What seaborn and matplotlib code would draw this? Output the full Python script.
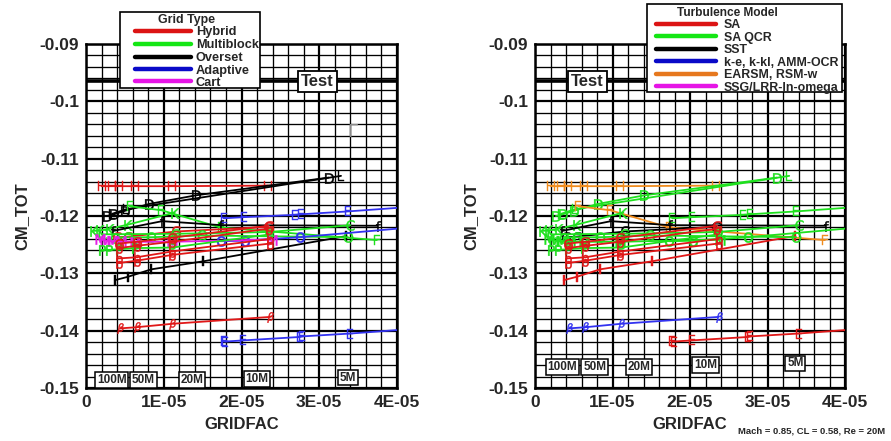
import numpy as np
import pandas as pd
import matplotlib
matplotlib.use("Agg")
import matplotlib.pyplot as plt
import seaborn as sns
from matplotlib.lines import Line2D
from matplotlib.patches import Rectangle

sns.set_style("white")
plt.rcParams['font.family'] = ['Liberation Sans', 'DejaVu Sans']
plt.rcParams['mathtext.fontset'] = 'dejavusans'

# ---------------- data (x in units of 1e-6) ----------------
H_x = [2.0, 3.3, 4.2, 6.3, 11.0, 23.4]
H_y = [-0.1148, -0.1148, -0.1148, -0.1148, -0.1148, -0.1147]
D_x = [2.7, 3.6, 5.0, 8.1, 14.1, 31.2]
D_y = [-0.1200, -0.1197, -0.1191, -0.1179, -0.1164, -0.1133]
L_x = [3.4, 5.2, 32.8]
L_y = [-0.1196, -0.1188, -0.1130]
F_x = [5.6, 9.7, 17.3, 37.4]
F_y = [-0.1183, -0.1190, -0.1220, -0.1242]
K_x = [1.0, 1.8, 3.1, 5.4, 11.4]
K_y = [-0.1226, -0.1225, -0.1222, -0.1215, -0.1194]
E1_x = [17.7, 20.3, 26.9, 27.7, 33.7, 46.0]
E1_y = [-0.1204, -0.1202, -0.1198, -0.1197, -0.1192, -0.1180]
E2_x = [17.7, 17.9, 20.2, 27.5, 27.8, 34.0, 46.0]
E2_y = [-0.1418, -0.1419, -0.1417, -0.1411, -0.1410, -0.1405, -0.1393]
BETA_x = [4.4, 6.5, 11.1, 23.7]
BETA_y = [-0.1396, -0.1394, -0.1388, -0.1376]
I_x = [3.7, 5.4, 8.4, 15.1, 33.5]
I_y = [-0.1312, -0.1306, -0.1293, -0.1279, -0.1235]
f_x = [3.5, 9.8, 17.4, 37.5]
f_y = [-0.1226, -0.1209, -0.1216, -0.1217]
G_x = [4.0, 5.4, 11.6, 23.4]
G_y = [-0.1237, -0.1236, -0.1227, -0.1219]
O_x = [3.7, 5.4, 8.4, 14.9, 33.7]
O_y = [-0.1238, -0.1237, -0.1237, -0.1234, -0.1237]
o_x = [17.3, 20.4, 27.5, 46.0]
o_y = [-0.1244, -0.1243, -0.1237, -0.1215]
C_x = [2.0, 11.5, 23.5, 34.0]
C_y = [-0.1232, -0.1231, -0.1228, -0.1216]
M_x = [1.8, 2.5, 3.3, 4.5, 6.3, 11.0, 23.9]
M_y = [-0.1240, -0.1243, -0.1244, -0.1244, -0.1245, -0.1245, -0.1241]
P_x = [2.0, 3.0, 4.2, 6.3, 11.1, 23.7]
P_y = [-0.1259, -0.1259, -0.1258, -0.1256, -0.1255, -0.1232]
b_x = [4.2, 6.5, 11.0, 23.7]
b_y = [-0.1282, -0.1278, -0.1268, -0.1248]
b2_x = [4.2, 6.5, 11.0, 23.7]
b2_y = [-0.1274, -0.1272, -0.1262, -0.1240]
a_x = [4.2, 6.5, 11.0, 23.5]
a_y = [-0.1256, -0.1252, -0.1245, -0.1222]
a2_x = [4.2, 6.5, 11.0, 23.5]
a2_y = [-0.1248, -0.1245, -0.1238, -0.1217]

# (marker letter, grid type, turbulence model, x, y)
series = [
    ("H", "Hybrid", "EARSM, RSM-w", H_x, H_y),
    ("D", "Overset", "SA QCR", D_x, D_y),
    ("L", "Overset", "SA QCR", L_x, L_y),
    ("F", "Multiblock", "EARSM, RSM-w", F_x, F_y),
    ("K", "Multiblock", "SA QCR", K_x, K_y),
    ("E", "Adaptive", "SA QCR", E1_x, E1_y),
    ("E", "Adaptive", "SA", E2_x, E2_y),
    ("\\beta", "Hybrid", "k-e, k-kl, AMM-OCR", BETA_x, BETA_y),
    ("I", "Overset", "SA", I_x, I_y),
    ("f", "Overset", "SST", f_x, f_y),
    ("G", "Hybrid", "SST", G_x, G_y),
    ("O", "Multiblock", "SA QCR", O_x, O_y),
    ("o", "Adaptive", "SA QCR", o_x, o_y),
    ("C", "Multiblock", "SA QCR", C_x, C_y),
    ("M", "Cart", "SA QCR", M_x, M_y),
    ("P", "Multiblock", "SA QCR", P_x, P_y),
    ("b", "Hybrid", "SA", b_x, b_y),
    ("b", "Hybrid", "SA", b2_x, b2_y),
    ("b", "Hybrid", "SA", a_x, a_y),
    ("G", "Hybrid", "SA", a2_x, a2_y),
]

grid_types = ["Hybrid", "Multiblock", "Overset", "Adaptive", "Cart"]
models = ["SA", "SA QCR", "SST", "k-e, k-kl, AMM-OCR", "EARSM, RSM-w", "SSG/LRR-ln-omega"]
size_labels = ["100M", "50M", "20M", "10M", "5M"]
size_x_left = [3.3, 7.4, 13.6, 22.0, 33.7]
size_y_left = [-0.1486, -0.1486, -0.1486, -0.1484, -0.1482]
size_x_right = [3.5, 7.7, 13.4, 22.0, 33.6]
size_y_right = [-0.1463, -0.1463, -0.1463, -0.1460, -0.1457]
test_level = -0.0965

grid_colors = {"Hybrid": "#e01818", "Multiblock": "#1ee01e", "Overset": "#000000",
               "Adaptive": "#3232f0", "Cart": "#e61ee6"}
grid_legend_colors = {"Hybrid": "#dc1414", "Multiblock": "#14e614", "Overset": "#000000",
                      "Adaptive": "#0a0ac8", "Cart": "#e614e6"}
model_colors = {"SA": "#e01818", "SA QCR": "#1ee01e", "SST": "#000000",
                "k-e, k-kl, AMM-OCR": "#3232f0", "EARSM, RSM-w": "#f08c1e",
                "SSG/LRR-ln-omega": "#e61ee6"}
model_legend_colors = {"SA": "#dc1414", "SA QCR": "#14e614", "SST": "#000000",
                       "k-e, k-kl, AMM-OCR": "#0a0ac8", "EARSM, RSM-w": "#e6781e",
                       "SSG/LRR-ln-omega": "#e614e6"}

W, Hh = 891, 441
fig = plt.figure(figsize=(W / 100, Hh / 100), dpi=100)

def px_rect(x0, y0, x1, y1):
    return [x0 / W, 1 - y1 / Hh, (x1 - x0) / W, (y1 - y0) / Hh]

axL = fig.add_axes(px_rect(86, 44, 397, 388))
axR = fig.add_axes(px_rect(535, 44, 845, 388))


def style_axes(ax):
    ax.set_xlim(0, 4e-5)
    ax.set_ylim(-0.15, -0.09)
    ax.set_xticks([0, 1e-5, 2e-5, 3e-5, 4e-5])
    ax.set_xticklabels(["0", "1E-05", "2E-05", "3E-05", "4E-05"])
    ax.set_xticks(np.arange(0, 4.0001e-5, 2e-6), minor=True)
    ax.set_yticks([-0.15, -0.14, -0.13, -0.12, -0.11, -0.1, -0.09])
    ax.set_yticklabels(["-0.15", "-0.14", "-0.13", "-0.12", "-0.11", "-0.1", "-0.09"])
    ax.set_yticks(np.arange(-0.15, -0.0899, 0.002), minor=True)
    ax.grid(which="major", color="black", lw=1.6)
    ax.grid(which="minor", color="black", lw=0.95)
    ax.set_axisbelow(True)
    ax.tick_params(which="both", length=0, pad=5)
    for lab in ax.get_xticklabels() + ax.get_yticklabels():
        lab.set_fontsize(12.5)
        lab.set_fontweight("bold")
    for s in ax.spines.values():
        s.set_linewidth(1.8)
        s.set_color("black")
    ax.set_xlabel("GRIDFAC", fontsize=12, fontweight="bold", labelpad=5)
    ax.set_ylabel("CM_TOT", fontsize=12, fontweight="bold", labelpad=7)
    ax.axhline(test_level, color="black", lw=2.6, zorder=3)


def draw_series(ax, colors, key):
    for letter, grid, model, xs, ys in series:
        c = colors[grid] if key == "grid" else colors[model]
        df = pd.DataFrame({"GRIDFAC": np.array(xs) * 1e-6, "CM_TOT": ys})
        mk = r"$\beta$" if letter.startswith("\\") else r"$\mathrm{" + letter + "}$"
        sns.lineplot(data=df, x="GRIDFAC", y="CM_TOT", sort=False, estimator=None,
                     color=c, lw=1.3, marker=mk, markersize=7.5, mec=c, mfc=c,
                     mew=0.3, ax=ax, legend=False, zorder=4)


draw_series(axL, grid_colors, "grid")
draw_series(axR, model_colors, "model")
style_axes(axL)
style_axes(axR)

box = dict(boxstyle="square,pad=0.18", fc="white", ec="black", lw=1.3)
axL.text(29.8e-6, test_level, "Test", ha="center", va="center", fontsize=12,
         fontweight="bold", bbox=box, zorder=6)
axR.text(6.8e-6, test_level, "Test", ha="center", va="center", fontsize=12,
         fontweight="bold", bbox=box, zorder=6)

sbox = dict(boxstyle="square,pad=0.15", fc="white", ec="black", lw=1.1)
for lab, x, y in zip(size_labels, size_x_left, size_y_left):
    axL.text(x * 1e-6, y, lab, ha="center", va="center", fontsize=8.5,
             fontweight="bold", bbox=sbox, zorder=6)
for lab, x, y in zip(size_labels, size_x_right, size_y_right):
    axR.text(x * 1e-6, y, lab, ha="center", va="center", fontsize=8.5,
             fontweight="bold", bbox=sbox, zorder=6)

axL.text(34.3e-6, -0.1054, "Γ", ha="center", va="center", fontsize=13,
         color="#8a8a8a", family="DejaVu Sans", zorder=5)


# ---------------- legends (drawn in pixel coordinates) ----------------
def fx(x):
    return x / W


def fy(y):
    return 1 - y / Hh


def draw_legend(x0, y0, x1, y1, title, title_xy, labels, colors, line_x0, line_x1,
                text_x, rows, fs):
    fig.patches.append(Rectangle((fx(x0), fy(y1)), fx(x1) - fx(x0), fy(y0) - fy(y1),
                                 transform=fig.transFigure, fc="white", ec="black",
                                 lw=1.2, zorder=20))
    fig.text(fx(title_xy[0]), fy(title_xy[1] + 1), title, ha="center", va="center",
             fontsize=fs - 0.3, fontweight="bold", zorder=21)
    for lab, ry in zip(labels, rows):
        fig.lines.append(Line2D([fx(line_x0), fx(line_x1)], [fy(ry), fy(ry)],
                                transform=fig.transFigure, color=colors[lab],
                                lw=3.2, zorder=21))
        fig.text(fx(text_x), fy(ry + 1.5), lab, ha="left", va="center", fontsize=fs,
                 fontweight="bold", zorder=21)


draw_legend(120, 12, 260, 88, "Grid Type", (187, 19.5), grid_types,
            grid_legend_colors, 135, 191, 196, [31, 43.5, 56.5, 69, 81], 9.2)
draw_legend(647, 4, 842, 92, "Turbulence Model", (727, 11.5), models,
            model_legend_colors, 656, 716, 724, [24, 36, 48.5, 61, 73.5, 86], 8.9)

fig.text(fx(812), fy(431), "Mach = 0.85, CL = 0.58, Re = 20M", ha="center",
         va="center", fontsize=6.8, fontweight="bold")

fig.savefig("out.png", dpi=100)
